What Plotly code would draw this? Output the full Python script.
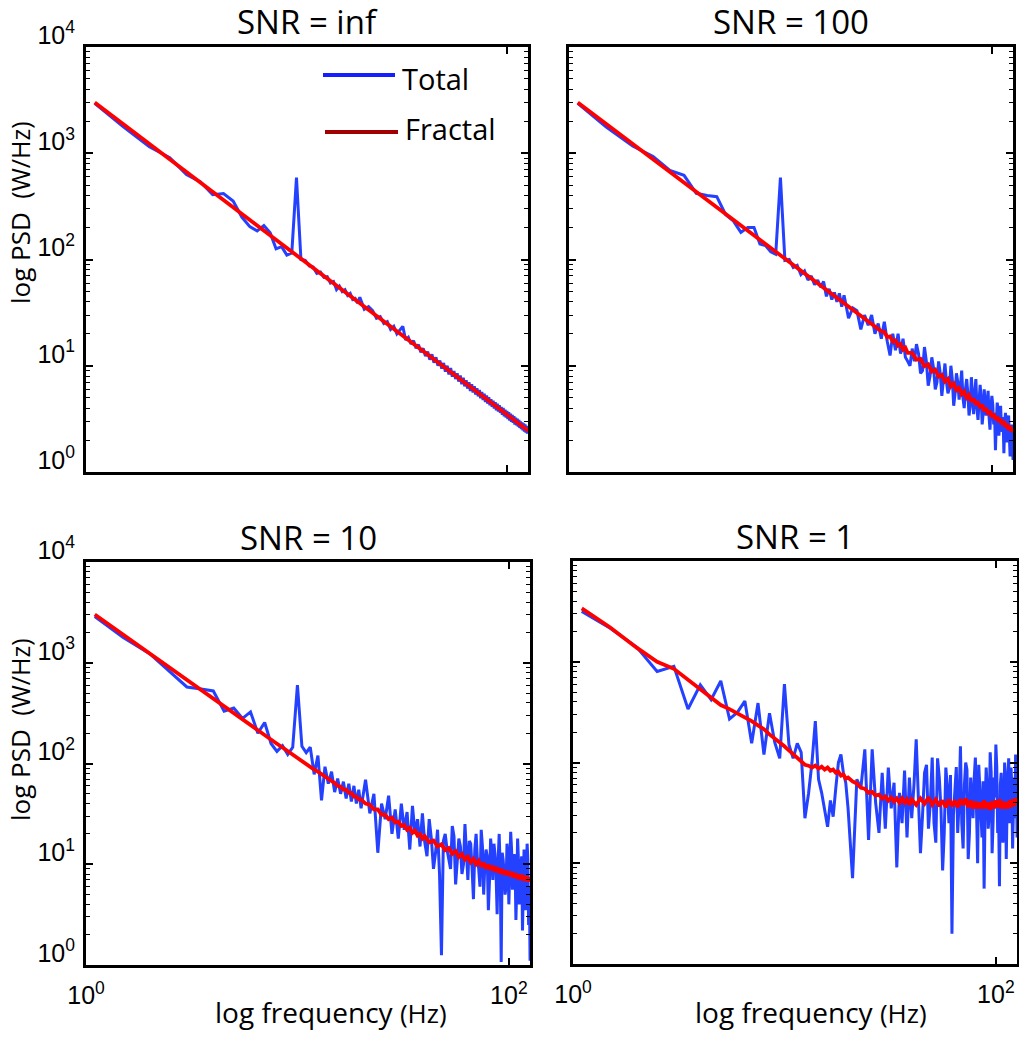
import plotly.graph_objects as go

W, H = 1019, 1050

# ---------------- data ----------------
# frequency grid of the smooth "Fractal" curves
FREQ = [1.1, 1.5, 2, 2.5, 3, 3.5, 4, 4.5, 5, 5.5, 6, 6.5, 7, 7.5, 8, 8.5, 9, 9.5, 10,
        10.5, 11, 11.5, 12, 12.5, 13, 13.5, 14, 14.5, 15, 15.5, 16, 16.5, 17, 17.5,
        18, 18.5, 19, 19.5, 20,
        21, 22, 23, 24, 25, 26, 27, 28, 29, 30, 31, 32, 33, 34, 35, 36, 37, 38, 39, 40,
        42, 44, 46, 48, 50, 52, 54, 56, 58, 60, 62, 64, 66, 68, 70, 72, 74, 76, 78, 80,
        82, 84, 86, 88, 90, 92, 94, 96, 98, 100, 102, 104, 106, 108, 110, 112, 114, 116,
        118, 120, 122, 124, 126]

# frequency grid of the noisy "Total" spectra (1 Hz above 20 Hz)
FREQ_TOTAL = [1.1, 1.5, 2, 2.5, 3, 3.5, 4, 4.5, 5, 5.5, 6, 6.5, 7, 7.5, 8, 8.5, 9, 9.5, 10,
              10.5, 11, 11.5, 12, 12.5, 13, 13.5, 14, 14.5, 15, 15.5, 16, 16.5, 17, 17.5,
              18, 18.5, 19, 19.5, 20,
              21, 22, 23, 24, 25, 26, 27, 28, 29, 30, 31, 32, 33, 34, 35, 36, 37, 38, 39, 40,
              41, 42, 43, 44, 45, 46, 47, 48, 49, 50, 51, 52, 53, 54, 55, 56, 57, 58, 59, 60,
              61, 62, 63, 64, 65, 66, 67, 68, 69, 70, 71, 72, 73, 74, 75, 76, 77, 78, 79, 80,
              81, 82, 83, 84, 85, 86, 87, 88, 89, 90, 91, 92, 93, 94, 95, 96, 97, 98, 99, 100,
              101, 102, 103, 104, 105, 106, 107, 108, 109, 110, 111, 112, 113, 114, 115, 116,
              117, 118, 119, 120, 121, 122, 123, 124, 125, 126]

TITLES = ["SNR = inf", "SNR = 100", "SNR = 10", "SNR = 1"]

TOTAL_INF = [2950, 1780, 1150, 910, 630, 537, 407, 417, 355, 251, 204, 186, 209, 178, 126, 132, 110, 115, 590,
             100, 98, 87, 85, 74, 76, 68, 69, 60, 62, 52, 56, 50, 52, 46, 48, 42, 43, 39, 44,
             34, 36, 33, 28, 29, 25, 26, 22, 23.5, 20, 21.5, 23.5, 17.5, 18.5, 16, 17.2, 14.6, 15.8, 13.4, 14.6,
             12.3, 13.6, 11.4, 12.8, 10.7, 12.0, 10.0, 11.2, 9.4, 10.6,
             8.8, 10.0, 8.3, 9.5, 7.9, 8.9, 7.5, 8.5, 7.1, 8.1,
             6.7, 7.7, 6.4, 7.3, 6.1, 7.0, 5.8, 6.7, 5.6, 6.4,
             5.35, 6.15, 5.15, 5.9, 4.95, 5.65, 4.75, 5.45, 4.55, 5.25,
             4.4, 5.05, 4.25, 4.85, 4.1, 4.7, 3.95, 4.55, 3.8, 4.4,
             3.7, 4.25, 3.6, 4.1, 3.45, 4.0, 3.35, 3.85, 3.25, 3.75,
             3.15, 3.65, 3.05, 3.55, 2.97, 3.45, 2.9, 3.35, 2.8, 3.25,
             2.75, 3.17, 2.67, 3.1, 2.6, 3.0, 2.53, 2.93, 2.47, 2.86,
             2.4, 2.8, 2.35, 2.72, 2.3, 2.6]

FRACTAL_INF = [3005, 1887, 1226, 877, 667, 529, 433, 363, 310, 269, 236, 209, 187, 169, 153, 140, 128, 118, 110,
               102, 95, 89, 83, 78.5, 74, 69.9, 66.2, 62.8, 59.7, 56.8, 54.2, 51.7, 49.5, 47.4, 45.4, 43.6, 41.9, 40.3, 38.8,
               36.0, 33.6, 31.4, 29.5, 27.7, 26.1, 24.7, 23.4, 22.2, 21.1, 20.1, 19.2, 18.3, 17.5, 16.7, 16.1, 15.4, 14.8, 14.2, 13.7,
               12.7, 11.9, 11.1, 10.4, 9.8, 9.25, 8.74, 8.27, 7.85, 7.46, 7.10, 6.77, 6.47, 6.18, 5.92, 5.67,
               5.45, 5.23, 5.03, 4.85, 4.67, 4.50, 4.35, 4.20, 4.06, 3.93, 3.80, 3.69, 3.57, 3.47, 3.37,
               3.27, 3.18, 3.09, 3.00, 2.93, 2.85, 2.78, 2.70, 2.64, 2.57, 2.51, 2.45]

TOTAL_100 = [2950, 1760, 1170, 930, 690, 620, 420, 400, 390, 265, 230, 180, 200, 200, 140, 135, 118, 112, 590,
             98, 100, 84, 88, 72, 78, 64, 70, 58, 64, 55, 62, 45, 53, 42, 49, 40, 48, 36, 46,
             28, 35, 33, 22, 30, 24, 30, 20, 25, 18, 26, 17, 12.5, 20, 14, 20, 13, 18, 12, 11,
             10, 14.5, 11, 16, 13, 8.5, 9, 15, 11, 6.5,
             8, 12, 9.5, 6.0, 7, 11, 8.5, 5.2, 8, 10.5,
             7, 5.5, 6.2, 10, 7.5, 4.2, 5.5, 8.5, 7, 4.8,
             6.5, 9.0, 5, 4.0, 6, 7.5, 5.5, 3.4, 4.2, 7.8,
             5.2, 3.5, 5.5, 7.5, 4.0, 3.1, 4.6, 6.6, 5.0, 2.8,
             3.6, 6.0, 4.6, 3.4, 4.4, 5.8, 3.3, 2.5, 4.0, 5.2,
             4.3, 2.8, 3.6, 1.6, 3.0, 4.5, 3.8, 2.2, 3.2, 4.2,
             2.6, 2.4, 3.3, 1.5, 2.9, 3.6, 2.5, 1.9, 2.9, 3.4,
             2.2, 1.4, 2.5, 2.8, 1.8, 1.3]

FRACTAL_100 = [3005, 1887, 1226, 877, 667, 529, 433, 363, 310, 269, 236, 209, 187, 169, 153, 140, 128, 118, 110,
               102, 95, 89, 83, 78.5, 74, 69.9, 66.2, 62.8, 59.7, 56.8, 54.2, 51.7, 49.5, 47.4, 45.4, 43.6, 41.9, 40.3, 38.8,
               36.0, 33.6, 31.4, 29.5, 27.7, 26.1, 24.7, 23.4, 22.2, 21.1, 20.8, 18.6, 18.9, 16.9, 17.3, 15.5, 16.0, 14.2, 14.8, 13.2,
               13.2, 11.4, 11.6, 9.9, 10.3, 8.8, 9.2, 7.9, 8.2, 7.1, 7.5, 6.4, 6.8, 5.9, 6.2, 5.4,
               5.7, 5.0, 5.3, 4.6, 4.9, 4.3, 4.6, 4.0, 4.3, 3.75, 4.0, 3.5, 3.75, 3.3, 3.55,
               3.1, 3.35, 2.95, 3.15, 2.8, 3.0, 2.65, 2.85, 2.5, 2.7, 2.4, 2.55]

TOTAL_10 = [2880, 1780, 1230, 810, 575, 550, 525, 330, 355, 280, 325, 200, 255, 158, 132, 150, 123, 145, 600,
            148, 128, 145, 78, 120, 43, 93, 63, 83, 52, 71, 50, 66, 45, 63, 42, 60, 40, 55, 36,
            69, 32, 50, 13, 40, 28, 48, 20, 35, 18, 40, 22, 33, 14, 38, 20, 28, 15, 32, 16.6,
            12, 28, 18, 9, 13, 22, 8, 1.25, 17, 20,
            14, 11, 9, 24, 19, 6.3, 12, 18, 15, 8,
            10, 25, 13, 7, 17, 16, 9, 4.5, 14, 20,
            11, 9, 6, 22, 15, 5, 10, 14, 12, 3.5,
            7, 18, 13, 7, 16, 12.6, 8, 3.2, 11, 20,
            9, 1.07, 13, 11, 8, 5, 6, 16, 12, 4,
            9, 21, 14, 5.6, 7, 12.6, 10, 2.8, 6, 18,
            11, 4, 8, 10, 12, 2.2, 5, 14, 9, 3.5,
            7, 16, 11, 2.5, 6, 1.1]

FRACTAL_10 = [3010, 1890, 1230, 880, 670, 533, 437, 367, 314, 273, 240, 213, 191, 173, 157, 144, 132, 122, 114,
              106, 99, 93, 87, 83, 78, 74, 70, 67, 64, 60, 59, 55, 55, 51, 51, 47, 47, 44, 44,
              40, 39, 35, 35, 31, 31, 28, 29, 26, 26.5, 24, 24.5, 22, 23, 20.5, 21.5, 19.3, 20, 18, 19,
              16.5, 17.2, 15, 15.8, 13.8, 14.5, 12.7, 13.5, 11.8, 12.6, 11.1, 11.9, 10.5, 11.3, 10.0, 10.8,
              9.5, 10.3, 9.1, 9.9, 8.8, 9.6, 8.5, 9.3, 8.2, 9.0, 8.0, 8.7, 7.8, 8.5, 7.6,
              8.3, 7.4, 8.1, 7.2, 7.9, 7.0, 7.8, 6.9, 7.6, 6.8, 7.4, 6.7]

TOTAL_1 = [3160, 2150, 1400, 800, 900, 340, 590, 420, 645, 270, 316, 407, 155, 389, 120, 309, 158, 110, 600,
           151, 110, 155, 126, 28, 49, 100, 257, 68, 50, 32, 23, 42, 29, 56, 100, 120, 79, 63, 35,
           7.1, 68, 56, 135, 17, 135, 40, 20, 79, 22, 89, 35, 63, 9.1, 50, 25, 83, 18, 71, 28,
           60, 170, 45, 12.6, 30, 79, 95, 22, 40, 112,
           25, 16, 110, 71, 35, 8.5, 20, 89, 55, 25,
           75, 2.0, 30, 63, 90, 20, 40, 145, 25, 14,
           60, 100, 85, 11, 20, 71, 45, 28, 70, 112,
           35, 10, 95, 56, 30, 18, 65, 5.6, 40, 89,
           55, 22, 30, 126, 80, 12.6, 25, 71, 45, 151,
           90, 20, 35, 5.9, 60, 79, 40, 16, 22, 100,
           75, 11, 35, 63, 110, 25, 30, 89, 55, 14,
           40, 71, 28, 120, 85, 18]

FRACTAL_1 = [3390, 2190, 1380, 1000, 850, 660, 525, 437, 372, 339, 309, 282, 257, 234, 214, 190, 174, 158, 145,
             132, 120, 110, 102, 95, 93, 89, 93, 87, 91, 85, 89, 83, 85, 79, 81, 74, 76, 69, 71,
             65, 62, 56, 55, 50, 51, 47, 48, 44, 46, 42, 45, 41, 44, 40, 44, 40, 43, 38, 43,
             38, 44, 39, 45, 38, 43, 37, 42, 36, 43, 37, 42, 36, 43, 38, 44,
             36, 42, 35, 41, 35, 40, 35, 42, 35, 40, 34, 41, 35, 42, 36,
             43, 35, 41, 35, 40, 35, 42, 36, 43, 37, 44, 40]

Y_TICKS = [1, 10, 100, 1000, 10000]
Y_TICKTEXT = ["10<sup>0</sup>", "10<sup>1</sup>", "10<sup>2</sup>", "10<sup>3</sup>", "10<sup>4</sup>"]
X_TICKS = [1, 100]
X_TICKTEXT = ["10<sup>0</sup>", "10<sup>2</sup>"]

# ---------------- layout geometry (page pixels) ----------------
# (left, right, top, bottom)
BOXES = [(86, 528, 47, 472), (569, 1013, 47, 472), (86, 530, 562, 965), (573, 1017, 561, 964)]

BLUE = "rgb(35,65,255)"
RED = "rgb(255,0,0)"
LEG_RED = "rgb(160,0,0)"
TICK_FONT = dict(family="Liberation Sans, Arial, sans-serif", size=25, color="black")
TEXT_FONT = "Open Sans, Lato, sans-serif"

def px(x):
    return x / W

def py(y):
    return 1 - y / H

minor_y = [m * 10 ** e for e in range(0, 4) for m in range(2, 10)]

fig = go.Figure()
series = [(TOTAL_INF, FRACTAL_INF), (TOTAL_100, FRACTAL_100), (TOTAL_10, FRACTAL_10), (TOTAL_1, FRACTAL_1)]

layout_axes = {}
for i, ((tot, frac), (l, r, t, b)) in enumerate(zip(series, BOXES)):
    n = i + 1
    xa = "x" if n == 1 else f"x{n}"
    ya = "y" if n == 1 else f"y{n}"
    fig.add_trace(go.Scatter(x=FREQ_TOTAL, y=tot, mode="lines", name="Total",
                             line=dict(color=BLUE, width=3), xaxis=xa, yaxis=ya, showlegend=False))
    fig.add_trace(go.Scatter(x=FREQ, y=frac, mode="lines", name="Fractal",
                             line=dict(color=RED, width=3.8), xaxis=xa, yaxis=ya, showlegend=False))
    bottom_row = n >= 3
    left_col = n in (1, 3)
    layout_axes["xaxis" if n == 1 else f"xaxis{n}"] = dict(
        domain=[px(l), px(r)], anchor=ya, type="log", range=[0, 2.1], automargin=False,
        showgrid=False, zeroline=False, showline=True, linecolor="black", linewidth=3,
        mirror="ticks", ticks="inside", ticklen=7, tickwidth=2, tickcolor="black",
        tickvals=X_TICKS, ticktext=X_TICKTEXT, showticklabels=bottom_row,
        tickfont=TICK_FONT, ticklabelstandoff=6)
    layout_axes["yaxis" if n == 1 else f"yaxis{n}"] = dict(
        domain=[py(b), py(t)], anchor=xa, type="log", range=[0, 4], automargin=False,
        showgrid=False, zeroline=False, showline=True, linecolor="black", linewidth=3,
        mirror="ticks", ticks="inside", ticklen=7, tickwidth=2, tickcolor="black",
        tickvals=Y_TICKS, ticktext=Y_TICKTEXT, showticklabels=left_col,
        tickfont=TICK_FONT, ticklabelshift=-12, ticklabelstandoff=3,
        minor=dict(tickvals=minor_y, ticks="inside", ticklen=4, tickwidth=1, tickcolor="black"))

annotations = []
for title, (l, r, t, b) in zip(TITLES, BOXES):
    annotations.append(dict(text=title, x=px((l + r) / 2), y=py(t - 25), xref="paper", yref="paper",
                            showarrow=False, xanchor="center", yanchor="middle",
                            font=dict(family=TEXT_FONT, size=33, color="black")))

# y-axis labels
for yc in (213, 730):
    annotations.append(dict(text="log PSD  <span style='font-size:25px'>(W/Hz)</span>",
                            x=px(20), y=py(yc), xref="paper", yref="paper", textangle=-90,
                            showarrow=False, xanchor="center", yanchor="middle",
                            font=dict(family=TEXT_FONT, size=26, color="black")))
# x-axis labels
for xc in (331, 811):
    annotations.append(dict(text="log frequency <span style='font-size:26px'>(Hz)</span>",
                            x=px(xc), y=py(1012), xref="paper", yref="paper",
                            showarrow=False, xanchor="center", yanchor="middle",
                            font=dict(family=TEXT_FONT, size=28, color="black")))

# legend (top-left panel)
shapes = [
    dict(type="line", xref="paper", yref="paper", x0=px(323), x1=px(395), y0=py(75), y1=py(75),
         line=dict(color="rgb(20,30,255)", width=4)),
    dict(type="line", xref="paper", yref="paper", x0=px(325), x1=px(398), y0=py(132), y1=py(132),
         line=dict(color=LEG_RED, width=4)),
]
annotations.append(dict(text="Total", x=px(400), y=py(78), xref="paper", yref="paper",
                        showarrow=False, xanchor="left", yanchor="middle",
                        font=dict(family=TEXT_FONT, size=29, color="black")))
annotations.append(dict(text="Fractal", x=px(403), y=py(128), xref="paper", yref="paper",
                        showarrow=False, xanchor="left", yanchor="middle",
                        font=dict(family=TEXT_FONT, size=29, color="black")))

fig.update_layout(width=W, height=H, margin=dict(l=0, r=0, t=0, b=0, autoexpand=False),
                  paper_bgcolor="white", plot_bgcolor="white", showlegend=False,
                  annotations=annotations, shapes=shapes, **layout_axes)

# the page's default body margin would push the 1019x1050 figure off the window
fig.write_html("out.html", config={"displayModeBar": False},
               post_script="document.body.style.margin='0';document.body.style.overflow='hidden';")
